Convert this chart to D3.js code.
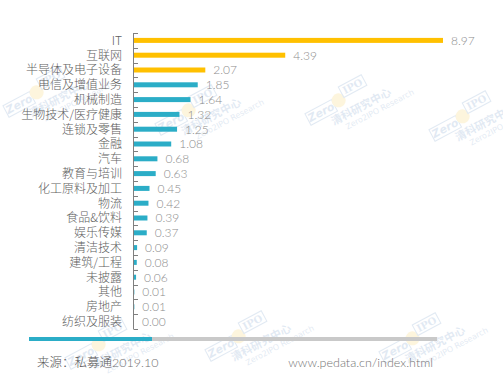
<!DOCTYPE html>
<html>
<head>
<meta charset="utf-8">
<script src="https://cdn.jsdelivr.net/npm/d3@7"></script>
<style>
  body { margin: 0; background: #fff; }
  svg { display: block; }
</style>
</head>
<body>
<div id="chart"></div>
<script>
// data
const categories = ['IT', '互联网', '半导体及电子设备', '电信及增值业务', '机械制造', '生物技术/医疗健康',
  '连锁及零售', '金融', '汽车', '教育与培训', '化工原料及加工', '物流', '食品&饮料', '娱乐传媒',
  '清洁技术', '建筑/工程', '未披露', '其他', '房地产', '纺织及服装'];
const values = [8.97, 4.39, 2.07, 1.85, 1.64, 1.32, 1.25, 1.08, 0.68, 0.63, 0.45, 0.42, 0.39, 0.37,
  0.09, 0.08, 0.06, 0.01, 0.01, 0.00];
const highlighted = ['IT', '互联网', '半导体及电子设备'];
const source = '来源：私募通';
const sourceDate = '2019.10';
const url = 'www.pedata.cn/index.html';

const width = 503, height = 376;
const data = categories.map((c, i) => ({ cat: c, value: values[i] }));

const svg = d3.select('#chart').append('svg')
  .attr('width', width)
  .attr('height', height);

const x = d3.scaleLinear()
  .domain([0, 8.97])
  .range([134, 443]);
const y = d3.scaleBand()
  .domain(categories)
  .range([33, 329]);

// watermarks (faint)
const marks = [[36, 104], [188, 122], [338, 112], [462, 128], [98, 356], [238, 348], [412, 350]];
marks.forEach(([mx, my]) => {
  const g = svg.append('g')
    .attr('transform', `translate(${mx},${my}) rotate(-28)`)
    .attr('opacity', 0.13);
  g.append('rect')
    .attr('x', -30).attr('y', -14).attr('width', 30).attr('height', 13)
    .attr('fill', 'none').attr('stroke', '#1f5fa8').attr('stroke-width', 1);
  g.append('text').attr('x', -15).attr('y', -4)
    .attr('text-anchor', 'middle')
    .style('font', 'bold italic 11px "DejaVu Sans"').attr('fill', '#1f5fa8')
    .text('Zero');
  g.append('circle').attr('cx', 6).attr('cy', -10).attr('r', 7).attr('fill', '#f5b400');
  g.append('rect')
    .attr('x', 12).attr('y', -22).attr('width', 26).attr('height', 12)
    .attr('fill', 'none').attr('stroke', '#1f5fa8').attr('stroke-width', 1);
  g.append('text').attr('x', 25).attr('y', -12.5)
    .attr('text-anchor', 'middle')
    .style('font', 'bold 10px "DejaVu Serif"').attr('fill', '#1f5fa8')
    .text('IPO');
  g.append('text').attr('x', -10).attr('y', 10)
    .style('font', 'bold 11px "Noto Sans CJK SC"').attr('fill', '#1f5fa8')
    .text('清科研究中心');
  g.append('text').attr('x', 0).attr('y', 20)
    .style('font', '8px "DejaVu Sans"').attr('fill', '#1f5fa8')
    .text('Zero2IPO Research');
});

// axis line with ticks at band edges
const edges = categories.map(c => y(c)).concat([y.range()[1]]);
svg.append('line')
  .attr('x1', 133.5).attr('x2', 133.5)
  .attr('y1', y.range()[0]).attr('y2', y.range()[1])
  .attr('stroke', '#7f7f7f').attr('stroke-width', 1);
svg.selectAll('.tick-mark')
  .data(edges)
  .join('line')
  .attr('class', 'tick-mark')
  .attr('x1', 133.5).attr('x2', 138)
  .attr('y1', d => Math.round(d) + 0.5).attr('y2', d => Math.round(d) + 0.5)
  .attr('stroke', '#7f7f7f').attr('stroke-width', 1);

// bars
const barH = 5;
svg.selectAll('.bar')
  .data(data)
  .join('rect')
  .attr('class', 'bar')
  .attr('x', x(0))
  .attr('y', d => y(d.cat) + y.bandwidth() / 2 - barH / 2)
  .attr('width', d => x(d.value) - x(0))
  .attr('height', barH)
  .attr('fill', d => highlighted.includes(d.cat) ? '#ffc000' : '#2badc7');

// category labels
svg.selectAll('.cat-label')
  .data(data)
  .join('text')
  .attr('class', 'cat-label')
  .attr('x', 122)
  .attr('y', d => y(d.cat) + y.bandwidth() / 2)
  .attr('dy', '0.36em')
  .attr('text-anchor', 'end')
  .style('font', '300 12px "Noto Sans CJK SC"')
  .attr('fill', '#606060')
  .text(d => d.cat);

// value labels
svg.selectAll('.val-label')
  .data(data)
  .join('text')
  .attr('class', 'val-label')
  .attr('x', d => x(d.value) + 8)
  .attr('y', d => y(d.cat) + y.bandwidth() / 2)
  .attr('dy', '0.36em')
  .style('font', '300 12px "Lato"')
  .attr('fill', '#8c8c8c')
  .text(d => d.value.toFixed(2));

// footer band
svg.append('rect')
  .attr('x', 152).attr('y', 337).attr('width', 285).attr('height', 4)
  .attr('fill', '#c9c9c9');
svg.append('rect')
  .attr('x', 29).attr('y', 337).attr('width', 123).attr('height', 4)
  .attr('fill', '#2badc7');

const src = svg.append('text')
  .attr('x', 37).attr('y', 367)
  .attr('fill', '#595959');
src.append('tspan')
  .style('font', '300 12.5px "Noto Sans CJK SC"')
  .text(source);
src.append('tspan')
  .style('font', '300 12.5px "Lato"')
  .attr('fill', '#737373')
  .text(sourceDate);

svg.append('text')
  .attr('x', 433).attr('y', 367)
  .attr('text-anchor', 'end')
  .style('font', '300 12.5px "Lato"')
  .attr('fill', '#737373')
  .text(url);
</script>
</body>
</html>
